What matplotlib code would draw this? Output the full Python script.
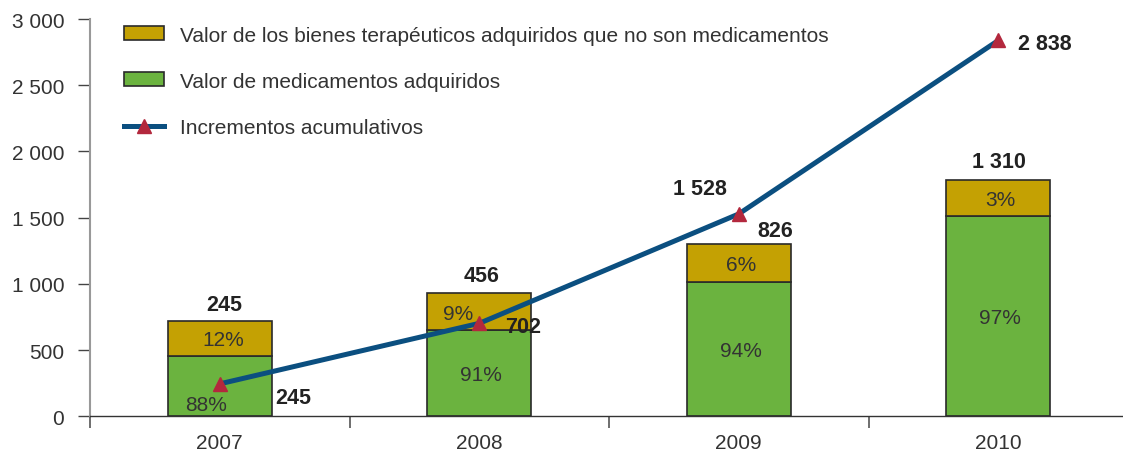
import numpy as np
import matplotlib.pyplot as plt
from matplotlib.patches import Patch
from matplotlib.lines import Line2D

plt.rcParams['font.family'] = ['Liberation Sans', 'DejaVu Sans']

years = ['2007', '2008', '2009', '2010']
medicamentos = [453, 654, 1012, 1512]        # green part of the bar
no_medicamentos = [269, 279, 291, 275]       # gold part on top
pct_med = ['88%', '91%', '94%', '97%']
pct_no_med = ['12%', '9%', '6%', '3%']
bar_labels = ['245', '456', '826', '1 310']
acumulado = [245, 702, 1528, 2838]
acumulado_labels = ['245', '702', '1 528', '2 838']

c_gold = '#C4A103'
c_green = '#6BB33F'
c_line = '#0B4F80'
c_mark = '#B3283D'
c_txt = '#333333'
fs = 15

fig = plt.figure(figsize=(11.23, 4.52), dpi=100)
W, H = 1123, 452
ax = fig.add_axes([90 / W, 34.7 / H, 1033 / W, 397.3 / H])

x = np.arange(len(years))
bw = 0.4
ax.bar(x, medicamentos, bw, color=c_green, edgecolor='#2a2a2a', linewidth=1.2, zorder=2)
tops = np.array(medicamentos) + np.array(no_medicamentos)
ax.bar(x, no_medicamentos, bw, bottom=medicamentos, color=c_gold,
       edgecolor='#2a2a2a', linewidth=1.2, zorder=2)

ax.plot(x, acumulado, color=c_line, lw=3.6, zorder=3, solid_capstyle='butt')
ax.plot(x, acumulado, ls='none', marker='^', ms=10.5, color=c_mark, zorder=4)

# labels over the bars
tot_off = [(4.7, 10.7), (2.5, 11.7), (36, 7.7), (0.8, 12.7)]
for i, lab in enumerate(bar_labels):
    ax.annotate(lab, (x[i], tops[i]), xytext=tot_off[i], textcoords='offset pixels',
                ha='center', va='baseline', fontsize=fs + 0.5, fontweight='bold',
                color='#222222')

# labels on the line
line_off = [(74, -18.8), (43.5, -8.7), (-39.3, 19.9), (46.7, -8.2)]
for i, lab in enumerate(acumulado_labels):
    ax.annotate(lab, (x[i], acumulado[i]), xytext=line_off[i], textcoords='offset pixels',
                ha='center', va='baseline', fontsize=fs + 0.5, fontweight='bold',
                color='#222222', zorder=5)

# percentages inside the segments
med_off = [(-14, -23.7), (2, -7), (2, -7), (2, -7)]
no_med_off = [(3, -7), (-21.3, -7.8), (2, -7), (2, -7)]
for i in range(len(years)):
    ax.annotate(pct_med[i], (x[i], medicamentos[i] / 2), xytext=med_off[i],
                textcoords='offset pixels', ha='center', va='baseline',
                fontsize=fs, color=c_txt, zorder=5)
    ax.annotate(pct_no_med[i], (x[i], medicamentos[i] + no_medicamentos[i] / 2),
                xytext=no_med_off[i], textcoords='offset pixels', ha='center',
                va='baseline', fontsize=fs, color=c_txt, zorder=5)

ax.set_xlim(-0.5, -0.5 + 1033 / 259.5)
ax.set_ylim(0, 3000)

ax.set_xticks(np.arange(len(years)) - 0.5)
ax.set_xticklabels([])
ax.set_xticks(x, minor=True)
ax.set_xticklabels(years, minor=True, fontsize=fs, color=c_txt)
ax.tick_params(axis='x', which='major', length=8.6, width=1.2, color='#555555')
ax.tick_params(axis='x', which='minor', length=0, pad=12)

yt = np.arange(0, 3001, 500)
ax.set_yticks(yt)
ax.set_yticklabels([f'{v:,}'.replace(',', ' ') for v in yt], fontsize=fs, color=c_txt)
ax.tick_params(axis='y', length=8.6, width=1, color='#444444', pad=10)

for s in ['top', 'right']:
    ax.spines[s].set_visible(False)
ax.spines['left'].set_color('#999999')
ax.spines['left'].set_linewidth(1.5)
ax.spines['bottom'].set_color('#333333')
ax.spines['bottom'].set_linewidth(1)

handles = [
    Patch(facecolor=c_gold, edgecolor='#2a2a2a', linewidth=1.2),
    Patch(facecolor=c_green, edgecolor='#2a2a2a', linewidth=1.2),
    Line2D([], [], color=c_line, lw=3.6, marker='^', ms=10.5,
           markerfacecolor=c_mark, markeredgecolor=c_mark),
]
labels = ['Valor de los bienes terapéuticos adquiridos que no son medicamentos',
          'Valor de medicamentos adquiridos',
          'Incrementos acumulativos']
leg = ax.legend(handles, labels, loc='upper left', bbox_to_anchor=(124 / W, 1 - 26.5 / H),
                bbox_transform=fig.transFigure, frameon=False, fontsize=fs,
                borderpad=0, borderaxespad=0, handlelength=1.93, handleheight=0.65,
                handletextpad=0.75, labelspacing=1.3, numpoints=1)
for t in leg.get_texts():
    t.set_color(c_txt)

fig.savefig('out.png', dpi=100)
